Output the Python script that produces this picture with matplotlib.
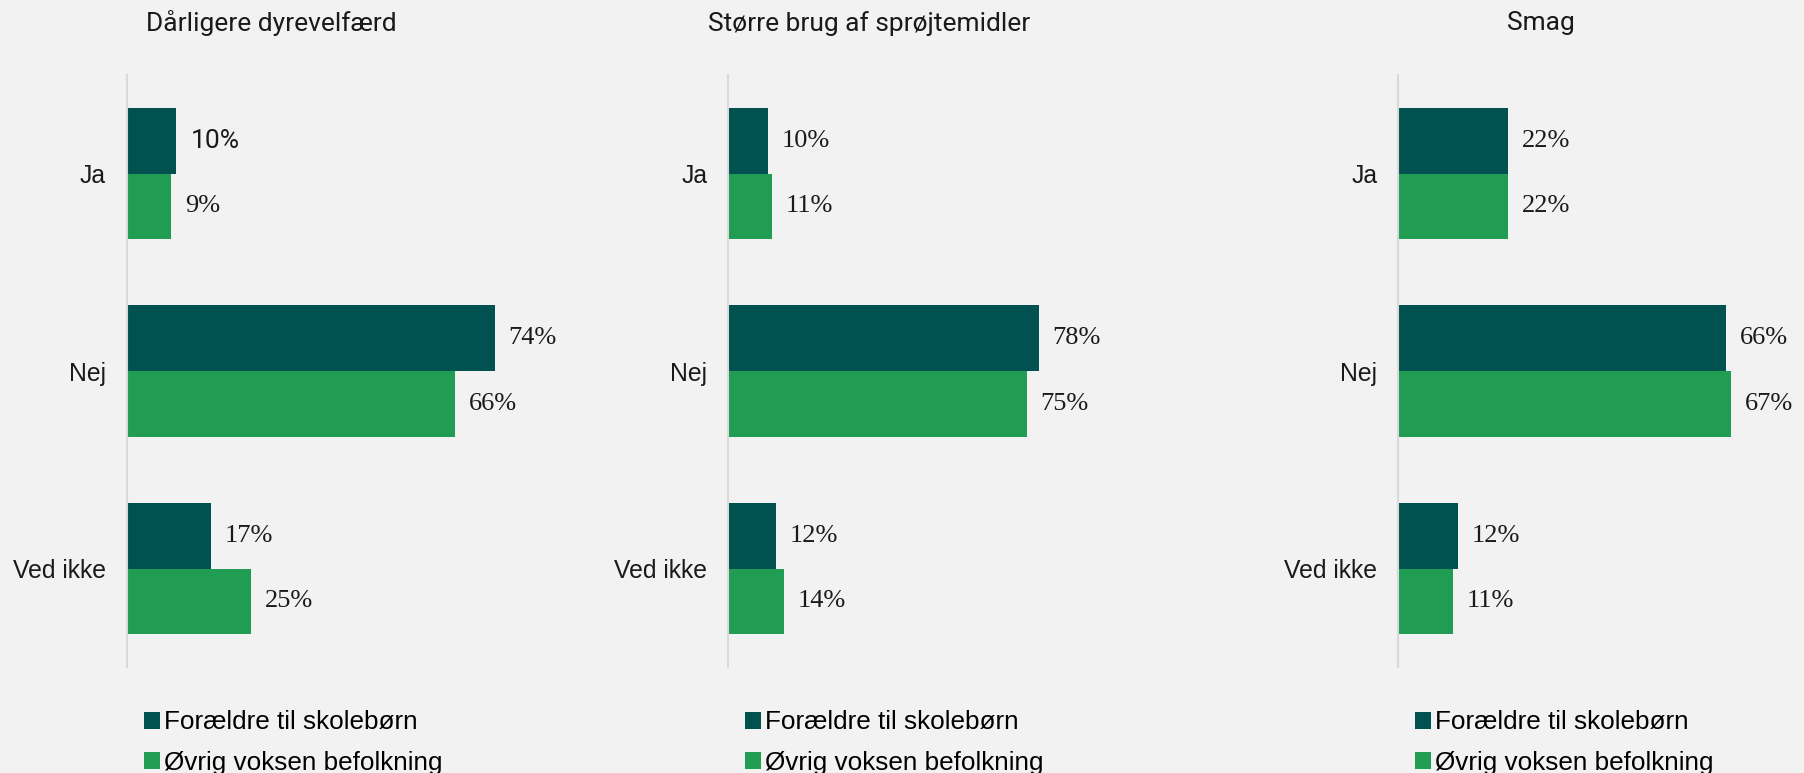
import numpy as np
import matplotlib
matplotlib.use("Agg")
import matplotlib.pyplot as plt
from matplotlib.patches import Patch

titles = ["Dårligere dyrevelfærd", "Større brug af sprøjtemidler", "Smag"]
categories = ["Ja", "Nej", "Ved ikke"]
series_names = ["Forældre til skolebørn", "Øvrig voksen befolkning"]
parents = [[10, 74, 17], [10, 78, 12], [22, 66, 12]]
others = [[9, 66, 25], [11, 75, 14], [22, 67, 11]]
xmax = [80, 100, 80]

DARK = "#005150"
GREEN = "#219C53"
BG = "#F2F2F2"

fig = plt.figure(figsize=(18.04, 7.73), dpi=100, facecolor=BG)

lefts = [0.0702, 0.4036, 0.775]
title_x = [0.1505, 0.4815, 0.854]
bh = 0.333
y = np.arange(len(categories))

for i in range(3):
    ax = fig.add_axes([lefts[i], 0.1367, 0.2206, 0.7665], facecolor=BG)
    ax.barh(y - bh / 2, parents[i], height=bh, color=DARK, linewidth=0)
    ax.barh(y + bh / 2, others[i], height=bh, color=GREEN, linewidth=0)
    ax.set_xlim(0, xmax[i])
    ax.set_ylim(2.5, -0.5)
    ax.set_yticks(y)
    ax.set_yticklabels(categories, family="Liberation Sans", fontsize=17.8, color="#1a1a1a")
    ax.tick_params(axis="y", length=0, pad=15)
    ax.set_xticks([])
    for s in ["top", "right", "bottom"]:
        ax.spines[s].set_visible(False)
    ax.spines["left"].set_color("#D9D9D9")
    ax.spines["left"].set_linewidth(1.5)

    off = xmax[i] * 0.035
    for j in range(len(categories)):
        fam = "Roboto" if (i == 0 and j == 0) else "Liberation Serif"
        ax.text(parents[i][j] + off, y[j] - bh / 2, f"{parents[i][j]}%",
                va="center", ha="left", fontsize=19, family=fam, color="#1a1a1a")
        ax.text(others[i][j] + off, y[j] + bh / 2, f"{others[i][j]}%",
                va="center", ha="left", fontsize=19, family="Liberation Serif", color="#1a1a1a")

    fig.text(title_x[i], 0.970, titles[i], ha="center", va="center",
             fontsize=19, family="Roboto", color="#1a1a1a")

    handles = [Patch(facecolor=DARK), Patch(facecolor=GREEN)]
    ax.legend(handles, series_names, loc="upper left",
              bbox_to_anchor=(lefts[i] + 0.0095, 0.081), bbox_transform=fig.transFigure,
              frameon=False, handlelength=0.62, handleheight=0.62, handletextpad=0.15,
              labelspacing=0.62, borderaxespad=0, borderpad=0,
              prop={"family": "Liberation Sans", "size": 18.8})

fig.savefig("out.png", facecolor=BG)
